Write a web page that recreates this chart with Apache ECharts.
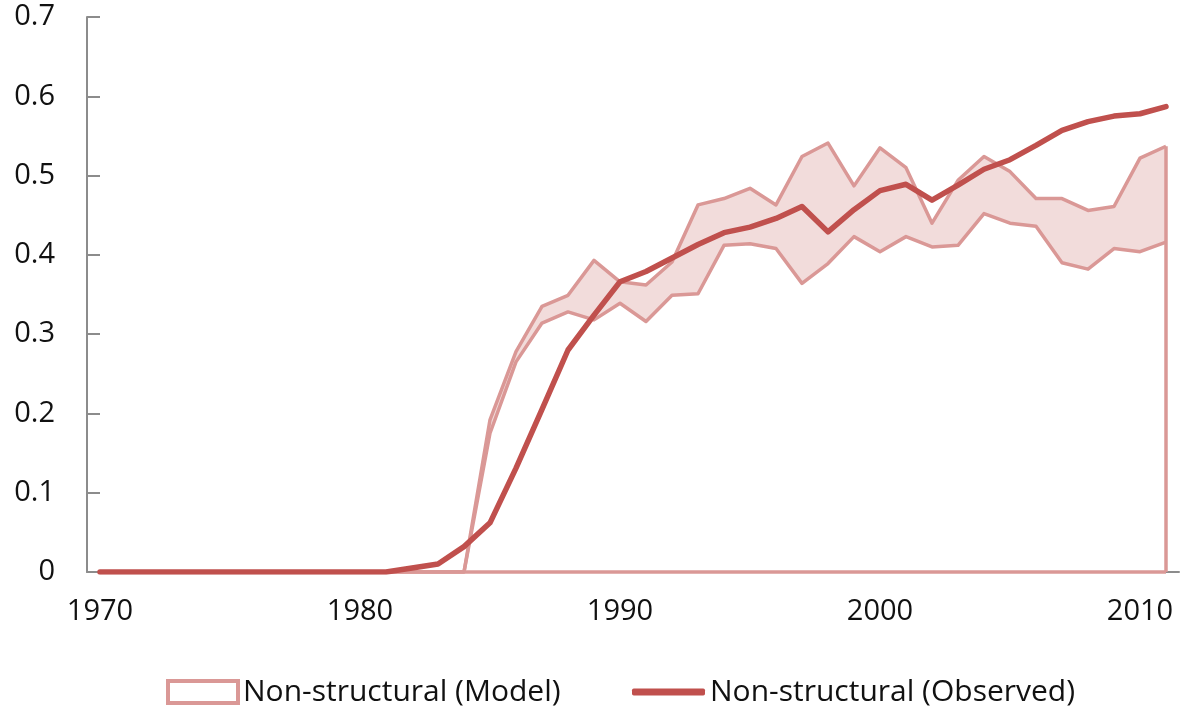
<!DOCTYPE html>
<html>
<head>
<meta charset="utf-8">
<script src="https://cdn.jsdelivr.net/npm/echarts@6/dist/echarts.min.js"></script>
<style>html,body{margin:0;padding:0;background:#fff;}#c{width:1188px;height:710px;}</style>
</head>
<body>
<div id="c"></div>
<script>
const years = [];
for (let y = 1970; y <= 2011; y++) years.push(String(y));

const observed = [0,0,0,0,0,0,0,0,0,0,0,0,0.005,0.01,0.032,0.062,0.131,0.205,0.28,0.324,0.366,0.379,0.396,0.413,0.428,0.435,0.446,0.461,0.429,0.457,0.481,0.489,0.469,0.488,0.508,0.52,0.538,0.557,0.568,0.575,0.578,0.587];
const modelUpper = [0,0,0,0,0,0,0,0,0,0,0,0,0,0,0,0.192,0.278,0.335,0.349,0.393,0.366,0.362,0.391,0.463,0.471,0.484,0.463,0.524,0.541,0.487,0.535,0.51,0.44,0.494,0.524,0.505,0.471,0.471,0.456,0.461,0.522,0.537];
const modelLower = [0,0,0,0,0,0,0,0,0,0,0,0,0,0,0,0.175,0.265,0.314,0.328,0.318,0.339,0.316,0.349,0.351,0.412,0.414,0.408,0.364,0.389,0.423,0.404,0.423,0.41,0.412,0.452,0.44,0.436,0.39,0.382,0.408,0.404,0.416];
const yTicks = [0, 0.1, 0.2, 0.3, 0.4, 0.5, 0.6, 0.7];

const modelName = 'Non-structural (Model)';
const obsName = 'Non-structural (Observed)';
const bandDiff = modelUpper.map((u, i) => +(u - modelLower[i]).toFixed(4));
const last = years.length - 1;

const FONT = 'Open Sans';
const PALE = '#DA9896';
const FILL = '#F2DCDB';
const DARK = '#C0504D';
const AXIS = '#8C8C8C';

const chart = echarts.init(document.getElementById('c'));
chart.setOption({
  animation: false,
  backgroundColor: '#fff',
  grid: { left: 87, right: 9, top: 17, bottom: 138, containLabel: false },
  xAxis: {
    type: 'category',
    data: years,
    boundaryGap: true,
    axisLine: { show: true, lineStyle: { color: AXIS, width: 2 } },
    axisTick: { show: false },
    axisLabel: {
      interval: 9,
      margin: 25,
      fontFamily: FONT, fontSize: 29, color: '#111'
    },
    splitLine: { show: false }
  },
  yAxis: {
    type: 'value',
    min: yTicks[0],
    max: yTicks[yTicks.length - 1],
    interval: 0.1,
    axisLine: { show: true, lineStyle: { color: AXIS, width: 2 } },
    axisTick: { show: true, inside: true, length: 13, lineStyle: { color: AXIS, width: 2 } },
    axisLabel: {
      margin: 32,
      fontFamily: FONT, fontSize: 29, color: '#111',
      formatter: v => String(+v.toFixed(1))
    },
    splitLine: { show: false }
  },
  legend: [
    {
      data: [modelName],
      left: 161, top: 672,
      itemWidth: 70, itemHeight: 22,
      icon: 'rect',
      itemStyle: { color: '#fff', borderColor: PALE, borderWidth: 4 },
      textStyle: { fontFamily: FONT, fontSize: 30, color: '#111' }
    },
    {
      data: [obsName],
      left: 627, top: 672,
      itemWidth: 73, itemHeight: 7,
      icon: 'roundRect',
      itemStyle: { color: DARK },
      textStyle: { fontFamily: FONT, fontSize: 30, color: '#111' }
    }
  ],
  series: [
    {
      name: 'modelLowerBase',
      type: 'line',
      stack: 'model',
      data: modelLower,
      symbol: 'none',
      lineStyle: { color: PALE, width: 3.5, join: 'round' },
      areaStyle: { opacity: 0 },
      z: 2,
      markLine: {
        silent: true,
        symbol: 'none',
        label: { show: false },
        lineStyle: { color: PALE, width: 3.5, type: 'solid' },
        data: [
          [{ coord: [years[0], 0] }, { coord: [years[last], 0] }],
          [{ coord: [years[last], 0] }, { coord: [years[last], modelUpper[last]] }]
        ]
      }
    },
    {
      name: modelName,
      type: 'line',
      stack: 'model',
      data: bandDiff,
      symbol: 'none',
      lineStyle: { color: PALE, width: 3.5, join: 'round' },
      areaStyle: { color: FILL, opacity: 1 },
      z: 1
    },
    {
      name: obsName,
      type: 'line',
      data: observed,
      symbol: 'none',
      lineStyle: { color: DARK, width: 5.5, join: 'round', cap: 'round' },
      z: 5
    }
  ]
});
</script>
</body>
</html>
